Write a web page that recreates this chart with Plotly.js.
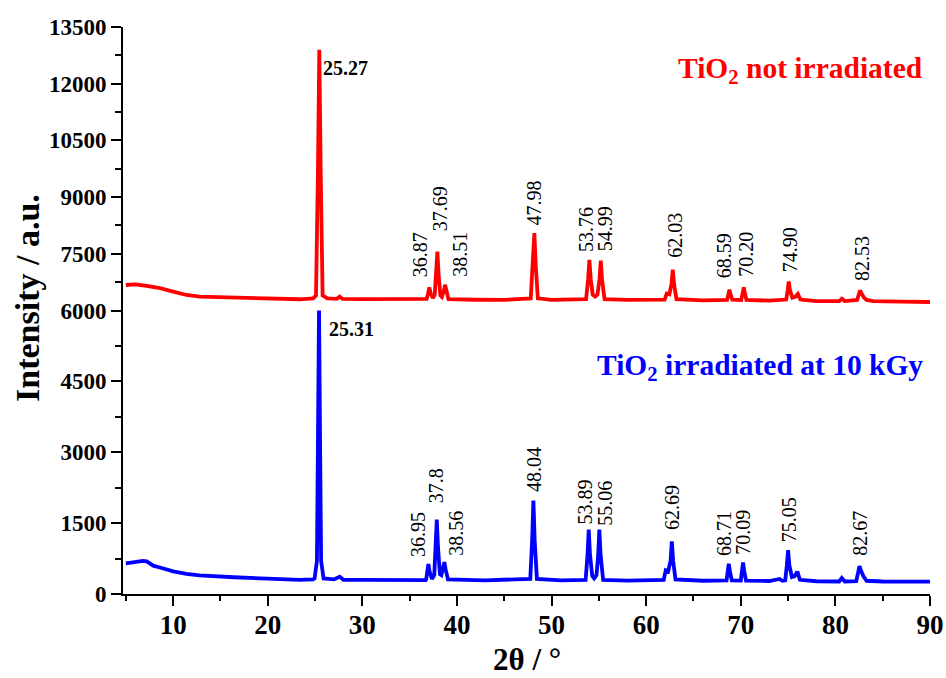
<!DOCTYPE html>
<html>
<head>
<meta charset="utf-8">
<script src="https://cdn.plot.ly/plotly-3.0.1.min.js"></script>
<style>html,body{margin:0;padding:0;background:#fff;}#chart{width:946px;height:678px;}</style>
</head>
<body>
<div id="chart"></div>
<script>
// ---- data ----
const redX = [5.0,6.0,7.2,8.6,10.0,11.4,12.8,16.4,19.9,23.4,24.8,25.1,25.3,25.45,25.6,25.8,26.3,27.3,27.6,27.9,30,33,36.6,
  36.8,36.95,37.08,37.22,37.45,37.65,37.8,37.93,38.06,38.25,38.4,38.6,38.74,38.88,39.1,42,45,47.8,48.03,48.18,48.33,48.55,50,
  53.65,53.86,54.0,54.14,54.35,54.6,54.85,55.06,55.2,55.34,55.6,58,61.95,62.18,62.45,62.67,62.81,62.95,63.2,66,
  68.55,68.68,68.8,68.92,69.1,70.05,70.2,70.32,70.44,70.6,73,74.8,74.95,75.07,75.2,75.45,75.75,76.03,76.3,78,80.4,80.68,81,
  82.3,82.48,82.6,82.75,83.0,83.3,84,87,90];
const redY = [6675,6690,6650,6590,6500,6410,6365,6340,6312,6297,6323,6400,9600,12900,9600,6400,6320,6310,6365,6310,6300,6300,6295,
  6310,6450,6610,6450,6330,6420,6950,7560,6950,6400,6360,6500,6680,6500,6300,6285,6280,6320,7170,8050,7170,6320,6280,
  6300,6820,7340,6820,6420,6370,6420,6810,7320,6810,6300,6280,6290,6450,6430,6690,7080,6690,6300,6270,
  6280,6420,6548,6420,6290,6280,6450,6610,6450,6280,6260,6290,6530,6770,6530,6340,6360,6440,6290,6250,6250,6312,6250,
  6280,6430,6530,6460,6350,6280,6250,6235,6225];

const blueX = [5.0,6.0,6.8,7.2,7.9,8.6,10.0,11.4,12.8,16.4,19.9,23.4,24.8,24.95,25.2,25.3,25.42,25.54,25.64,25.9,26.5,27.0,27.6,28,30,33,36.7,
  36.75,36.88,36.98,37.1,37.35,37.6,37.75,37.87,37.99,38.2,38.35,38.55,38.67,38.8,39.05,43,47.75,47.95,48.08,48.21,48.45,51,
  53.6,53.8,53.93,54.06,54.3,54.5,54.75,54.93,55.05,55.18,55.45,58,61.85,62.07,62.32,62.58,62.71,62.85,63.1,66,
  68.5,68.62,68.73,68.85,69.05,70.0,70.12,70.24,70.36,70.55,73,74.1,74.4,74.7,74.87,75.0,75.13,75.4,75.7,75.98,76.25,78,80.4,80.68,81,
  82.2,82.4,82.54,82.7,82.95,83.3,85,88,90];
const blueY = [650,680,700,690,600,560,480,425,396,354,325,297,311,330,700,3000,6050,3000,700,330,310,310,367,300,300,295,295,
  310,480,632,480,320,400,1000,1573,1000,420,400,540,674,520,310,290,320,1150,1976,1150,320,290,
  300,830,1361,830,380,330,400,830,1361,830,300,285,300,500,480,700,1113,700,310,280,
  290,480,640,480,290,285,490,668,490,285,275,318,280,290,610,929,610,360,380,473,300,270,265,339,265,
  270,450,590,500,380,280,265,262,261];

const xTickVals = [10,20,30,40,50,60,70,80,90];
const xMinorVals = [5,15,25,35,45,55,65,75,85];
const yLowTicks = [0,1500,3000,4500,6000];
const yLowTickText = ['0','1500','3000','4500','6000'];
const yLowMinor = [750,2250,3750,5250];
const yHighTicks = [7500,9000,10500,12000,13500];
const yHighTickText = ['7500','9000','10500','12000','13500'];
const yHighMinor = [6750,8250,9750,11250,12750];

const redLabels = ['36.87','37.69','38.51','47.98','53.76','54.99','62.03','68.59','70.20','74.90','82.53'];
const redLabelX = [36.03,38.21,40.33,48.18,53.62,55.66,63.06,68.16,70.56,75.14,82.79];
const redLabelY = [6853,8060,6853,8219,7531,7531,7356,6826,6853,6985,6763];
const blueLabels = ['36.95','37.8','38.56','48.04','53.89','55.06','62.69','68.71','70.09','75.05','82.67'];
const blueLabelX = [35.81,37.87,39.91,48.08,53.54,55.66,62.71,68.16,70.28,75.04,82.61];
const blueLabelY = [757,1908,778,2135,1442,1414,1342,778,806,1075,778];

const redMain = {text:'25.27', x:25.71, y:12421};
const blueMain = {text:'25.31', x:26.41, y:5618};
const redName = 'TiO<sub>2</sub> not irradiated';
const blueName = 'TiO<sub>2</sub> irradiated at 10 kGy';

// ---- styling ----
const FONT = 'Liberation Serif, Times New Roman, serif';
const RED = '#ff0000', BLUE = '#0000ff';

const traces = [
  {x: blueX, y: blueY, xaxis:'x', yaxis:'y', type:'scatter', mode:'lines', line:{color:BLUE, width:3.8}, hoverinfo:'skip'},
  {x: redX, y: redY, xaxis:'x', yaxis:'y2', type:'scatter', mode:'lines', line:{color:RED, width:3.8}, hoverinfo:'skip'}
];

const annotations = [];
redLabels.forEach((t,i)=>annotations.push({x:redLabelX[i], y:redLabelY[i], xref:'x', yref:'y2', text:t, showarrow:false,
  textangle:-90, xanchor:'center', yanchor:'bottom', font:{family:FONT, size:20, color:'#000'}, borderpad:0}));
blueLabels.forEach((t,i)=>annotations.push({x:blueLabelX[i], y:blueLabelY[i], xref:'x', yref:'y', text:t, showarrow:false,
  textangle:-90, xanchor:'center', yanchor:'bottom', font:{family:FONT, size:20, color:'#000'}, borderpad:0}));
annotations.push({x:redMain.x, y:redMain.y, xref:'x', yref:'y2', text:redMain.text, showarrow:false, xanchor:'left', yanchor:'middle',
  font:{family:FONT, size:20, color:'#000', weight:'bold'}, borderpad:0});
annotations.push({x:blueMain.x, y:blueMain.y, xref:'x', yref:'y', text:blueMain.text, showarrow:false, xanchor:'left', yanchor:'middle',
  font:{family:FONT, size:20, color:'#000', weight:'bold'}, borderpad:0});
annotations.push({x:89.38, y:12368, xref:'x', yref:'y2', text:redName, showarrow:false, xanchor:'right', yanchor:'middle',
  font:{family:FONT, size:29.5, color:RED, weight:'bold'}, borderpad:0});
annotations.push({x:89.38, y:4812, xref:'x', yref:'y', text:blueName, showarrow:false, xanchor:'right', yanchor:'middle',
  font:{family:FONT, size:29.5, color:BLUE, weight:'bold'}, borderpad:0});
annotations.push({x:-0.119, y:0.522, xref:'paper', yref:'paper', text:'Intensity / a.u.', showarrow:false, textangle:-90,
  xanchor:'center', yanchor:'middle', font:{family:FONT, size:34, color:'#000', weight:'bold'}});
annotations.push({x:0.5, y:-0.1164, xref:'paper', yref:'paper', text:'2θ / °', showarrow:false,
  xanchor:'center', yanchor:'middle', font:{family:FONT, size:31, color:'#000', weight:'bold'}});

const axisCommon = {showline:true, linecolor:'#000', linewidth:2, ticks:'outside', ticklen:10, tickwidth:2, tickcolor:'#000',
  showgrid:false, zeroline:false, fixedrange:true};

const layout = {
  width:946, height:678,
  margin:{l:123, r:16, t:27, b:84},
  paper_bgcolor:'#fff', plot_bgcolor:'#fff',
  showlegend:false,
  font:{family:FONT, color:'#000'},
  xaxis: Object.assign({}, axisCommon, {range:[4.70, 90], tickmode:'array', tickvals:xTickVals,
    tickfont:{family:FONT, size:27, weight:'bold'}, anchor:'y', ticklabelstandoff:-4,
    minor:{tickmode:'array', tickvals:xMinorVals, ticks:'outside', ticklen:5, tickwidth:2, tickcolor:'#000'}}),
  yaxis: Object.assign({}, axisCommon, {domain:[0, 0.5], range:[0, 6000], tickmode:'array', tickvals:yLowTicks, ticktext:yLowTickText, anchor:'x',
    tickfont:{family:FONT, size:23, weight:'bold'},
    minor:{tickmode:'array', tickvals:yLowMinor, ticks:'outside', ticklen:6, tickwidth:2, tickcolor:'#000'}}),
  yaxis2: Object.assign({}, axisCommon, {domain:[0.5, 1], range:[6000, 13500], tickmode:'array', tickvals:yHighTicks, ticktext:yHighTickText, anchor:'x',
    tickfont:{family:FONT, size:23, weight:'bold'},
    minor:{tickmode:'array', tickvals:yHighMinor, ticks:'outside', ticklen:6, tickwidth:2, tickcolor:'#000'}}),
  annotations: annotations
};

Plotly.newPlot('chart', traces, layout, {staticPlot:true, displayModeBar:false});
</script>
</body>
</html>
